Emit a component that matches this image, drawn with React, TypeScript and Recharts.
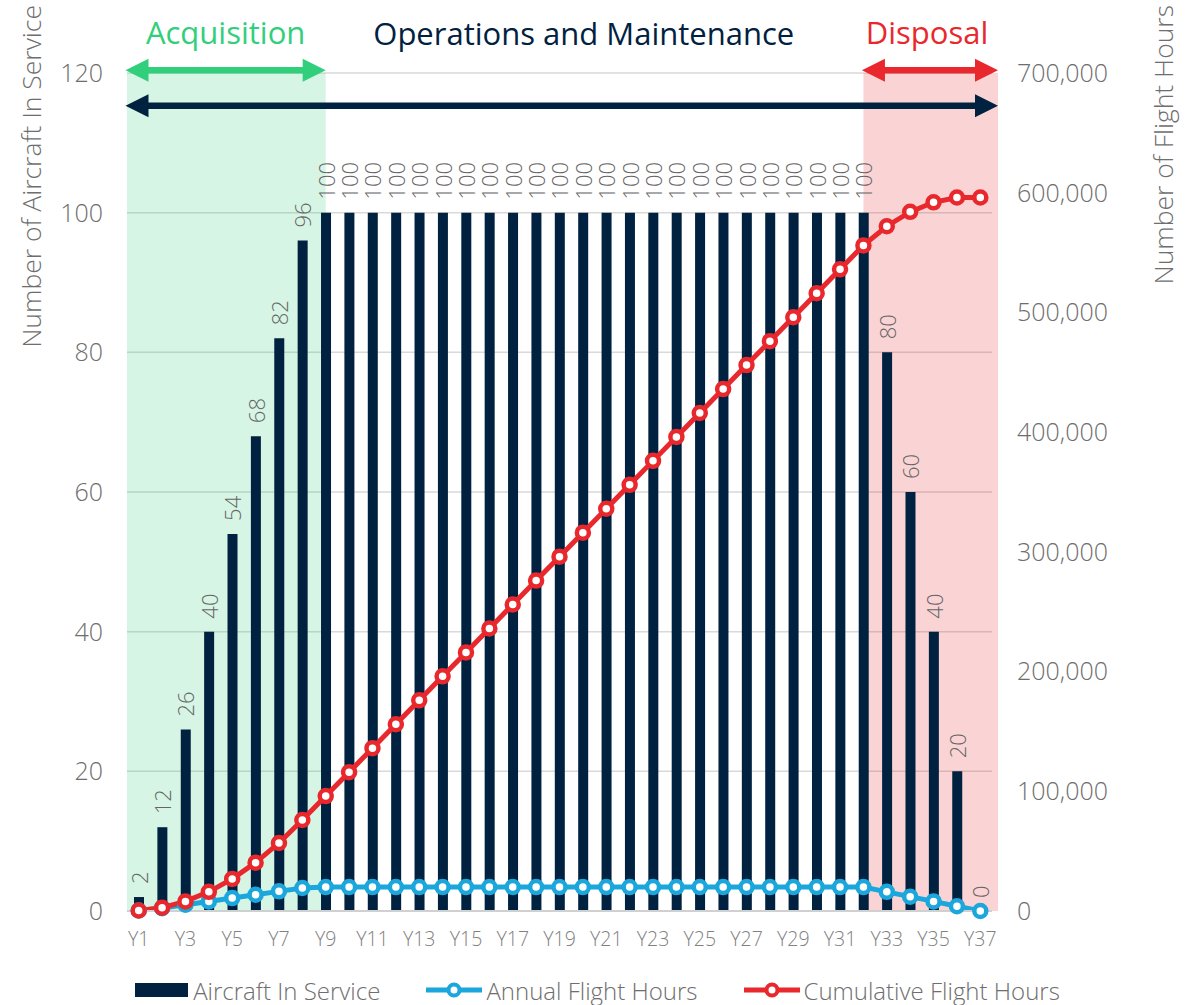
import React from "react";
import {
  ComposedChart,
  Bar,
  Line,
  XAxis,
  YAxis,
  CartesianGrid,
  ReferenceArea,
  Legend,
  LabelList,
  Label,
} from "recharts";

const years = [
  "Y1", "Y2", "Y3", "Y4", "Y5", "Y6", "Y7", "Y8", "Y9", "Y10",
  "Y11", "Y12", "Y13", "Y14", "Y15", "Y16", "Y17", "Y18", "Y19", "Y20",
  "Y21", "Y22", "Y23", "Y24", "Y25", "Y26", "Y27", "Y28", "Y29", "Y30",
  "Y31", "Y32", "Y33", "Y34", "Y35", "Y36", "Y37",
];

const aircraftInService = [
  2, 12, 26, 40, 54, 68, 82, 96, 100, 100,
  100, 100, 100, 100, 100, 100, 100, 100, 100, 100,
  100, 100, 100, 100, 100, 100, 100, 100, 100, 100,
  100, 100, 80, 60, 40, 20, 0,
];

const annualFlightHours = [
  400, 2400, 5200, 8000, 10800, 13600, 16400, 19200, 20000, 20000,
  20000, 20000, 20000, 20000, 20000, 20000, 20000, 20000, 20000, 20000,
  20000, 20000, 20000, 20000, 20000, 20000, 20000, 20000, 20000, 20000,
  20000, 20000, 16000, 12000, 8000, 4000, 0,
];

const cumulativeFlightHours = [
  400, 2800, 8000, 16000, 26800, 40400, 56800, 76000, 96000, 116000,
  136000, 156000, 176000, 196000, 216000, 236000, 256000, 276000, 296000, 316000,
  336000, 356000, 376000, 396000, 416000, 436000, 456000, 476000, 496000, 516000,
  536000, 556000, 572000, 584000, 592000, 596000, 596000,
];

const leftTicks = [0, 20, 40, 60, 80, 100, 120];
const rightTicks = [0, 100000, 200000, 300000, 400000, 500000, 600000, 700000];

const NAVY = "#00213f";
const GREEN = "#31cf7b";
const RED = "#e8282d";
const BLUE = "#1ba6dc";
const GREY = "#6e6e6e";
const FONT = "'Open Sans', sans-serif";

const data = years.map((year, i) => ({
  year,
  aircraft: aircraftInService[i],
  annual: annualFlightHours[i],
  cumulative: cumulativeFlightHours[i],
}));

type PhaseOpts = {
  first: string;
  last: string;
  trimLeft: number; // in bands
  trimRight: number; // in bands
  extendRight: number; // px past the plot edge
  fill?: string;
  color: string;
  arrowAt: number; // value on the left axis
  text: string;
  textDx: number;
  textDy: number;
};

// shaded phase + double arrow + title, drawn from the rect the category axis gives
const phaseShape = (o: PhaseOpts) => (p: any) => {
  const { x, y, width, height } = p;
  const bands = years.indexOf(o.last) - years.indexOf(o.first) + 1;
  const band = width / bands;
  const left = x + o.trimLeft * band;
  const right = x + width - o.trimRight * band + o.extendRight;
  const ay = y + height - (o.arrowAt / 120) * height;
  const head = 23;
  const half = 11.5;
  const x1 = left - 1.5;
  const x2 = right;
  return (
    <g>
      {o.fill && (
        <rect x={left} y={y} width={right - left} height={height} fill={o.fill} fillOpacity={0.2} />
      )}
      <line x1={x1 + head - 2} y1={ay} x2={x2 - head + 2} y2={ay} stroke={o.color} strokeWidth={6.5} />
      <polygon points={`${x1},${ay} ${x1 + head},${ay - half} ${x1 + head},${ay + half}`} fill={o.color} />
      <polygon points={`${x2},${ay} ${x2 - head},${ay - half} ${x2 - head},${ay + half}`} fill={o.color} />
      <text
        x={(x1 + x2) / 2 + o.textDx}
        y={ay + o.textDy}
        textAnchor="middle"
        fill={o.color}
        fontSize={31}
        fontFamily={FONT}
      >
        {o.text}
      </text>
    </g>
  );
};

const ValueLabel = (p: any) => {
  const { x, y, value } = p;
  const cx = x;
  const cy = y - 13;
  return (
    <text
      x={cx}
      y={cy}
      transform={`rotate(-90 ${cx} ${cy})`}
      textAnchor="start"
      dominantBaseline="central"
      fill="#666"
      fontSize={22}
      fontWeight={300}
      fontFamily={FONT}
    >
      {value}
    </text>
  );
};

const LineIcon = ({ color }: { color: string }) => (
  <svg width={56} height={18}>
    <line x1={0} y1={9} x2={56} y2={9} stroke={color} strokeWidth={5} />
    <circle cx={28} cy={9} r={5.5} fill="#fff" stroke={color} strokeWidth={4} />
  </svg>
);

const LegendContent = () => (
  <div
    style={{
      display: "flex",
      justifyContent: "center",
      alignItems: "center",
      gap: 46,
      height: 54,
      paddingTop: 24,
      boxSizing: "border-box",
      fontFamily: FONT,
      fontWeight: 300,
      fontSize: 24,
      color: GREY,
      whiteSpace: "nowrap",
    }}
  >
    <div style={{ display: "flex", alignItems: "center", gap: 5 }}>
      <div style={{ width: 53, height: 14, background: NAVY }} />
      <span>Aircraft In Service</span>
    </div>
    <div style={{ display: "flex", alignItems: "center", gap: 4 }}>
      <LineIcon color={BLUE} />
      <span>Annual Flight Hours</span>
    </div>
    <div style={{ display: "flex", alignItems: "center", gap: 4 }}>
      <LineIcon color={RED} />
      <span>Cumulative Flight Hours</span>
    </div>
  </div>
);

const tickStyle = { fill: GREY, fontSize: 25, fontWeight: 300, fontFamily: FONT };

const axisTitle = (text: string, cx: number) => () => (
  <text
    x={cx}
    y={5}
    transform={`rotate(-90 ${cx} 5)`}
    textAnchor="end"
    dominantBaseline="central"
    fill={GREY}
    fontSize={26.5}
    fontWeight={300}
    fontFamily={FONT}
  >
    {text}
  </text>
);

export default function App() {
  return (
    <div style={{ position: "absolute", left: 0, top: 0, width: 1195, height: 1005, background: "#fff" }}>
      <ComposedChart
        width={1195}
        height={1005}
        data={data}
        margin={{ top: 73, right: 0, bottom: 0, left: 0 }}
        barCategoryGap={0}
      >
        <CartesianGrid yAxisId="left" vertical={false} stroke="#d9d9d9" strokeWidth={1.5} />
        <XAxis
          dataKey="year"
          interval={1}
          tickLine={false}
          axisLine={{ stroke: "#d0d0d0", strokeWidth: 2 }}
          tick={{ fill: "#808080", fontSize: 19.5, fontWeight: 300, fontFamily: FONT }}
          tickMargin={15}
          height={40}
        />
        <YAxis
          yAxisId="left"
          domain={[0, 120]}
          ticks={leftTicks}
          width={127}
          tickLine={false}
          axisLine={false}
          tick={tickStyle}
          tickMargin={18}
        >
          <Label content={axisTitle("Number of Aircraft In Service", 31)} />
        </YAxis>
        <YAxis
          yAxisId="right"
          orientation="right"
          domain={[0, 700000]}
          ticks={rightTicks}
          width={203}
          tickLine={false}
          axisLine={false}
          tick={tickStyle}
          tickMargin={19}
          tickFormatter={(v: number) => v.toLocaleString("en-US")}
        >
          <Label content={axisTitle("Number of Flight Hours", 1163)} />
        </YAxis>

        <ReferenceArea
          yAxisId="left"
          x1="Y1"
          x2="Y9"
          y1={0}
          y2={120}
          shape={phaseShape({
            first: "Y1", last: "Y9", trimLeft: 0, trimRight: 0.5, extendRight: 0,
            fill: GREEN, color: GREEN, arrowAt: 120.4, text: "Acquisition", textDx: 0, textDy: -26,
          })}
        />
        <ReferenceArea
          yAxisId="left"
          x1="Y32"
          x2="Y37"
          y1={0}
          y2={120}
          shape={phaseShape({
            first: "Y32", last: "Y37", trimLeft: 0.5, trimRight: 0, extendRight: 6,
            fill: RED, color: RED, arrowAt: 120.4, text: "Disposal", textDx: -3, textDy: -26,
          })}
        />
        <ReferenceArea
          yAxisId="left"
          x1="Y1"
          x2="Y37"
          y1={0}
          y2={120}
          shape={phaseShape({
            first: "Y1", last: "Y37", trimLeft: 0, trimRight: 0, extendRight: 6,
            color: NAVY, arrowAt: 115.3, text: "Operations and Maintenance", textDx: 22, textDy: -61,
          })}
        />

        <Bar yAxisId="left" dataKey="aircraft" fill={NAVY} barSize={10} isAnimationActive={false} />
        {/* invisible carrier for the bar value labels, so the 0 at Y37 is labelled too */}
        <Line
          yAxisId="left"
          dataKey="aircraft"
          stroke="none"
          dot={false}
          activeDot={false}
          legendType="none"
          isAnimationActive={false}
        >
          <LabelList dataKey="aircraft" content={ValueLabel} />
        </Line>
        <Line
          yAxisId="right"
          dataKey="annual"
          stroke={BLUE}
          strokeWidth={5}
          dot={{ r: 6, fill: "#fff", stroke: BLUE, strokeWidth: 4.5 }}
          isAnimationActive={false}
        />
        <Line
          yAxisId="right"
          dataKey="cumulative"
          stroke={RED}
          strokeWidth={5}
          dot={{ r: 6, fill: "#fff", stroke: RED, strokeWidth: 4.5 }}
          isAnimationActive={false}
        />

        <Legend verticalAlign="bottom" content={LegendContent} />
      </ComposedChart>
    </div>
  );
}
